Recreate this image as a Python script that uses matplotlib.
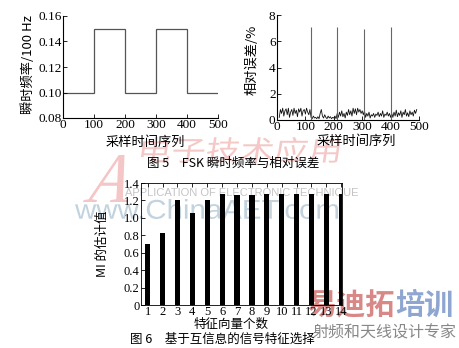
import matplotlib
matplotlib.use("Agg")
import matplotlib.pyplot as plt
from matplotlib.textpath import TextPath
from matplotlib.patches import PathPatch
from matplotlib.font_manager import FontProperties
from matplotlib.transforms import Affine2D

plt.rcParams['font.family'] = ['Liberation Serif', 'Noto Sans CJK SC']
plt.rcParams['axes.unicode_minus'] = False

# ---- data ----
seg_bounds = [0, 100, 200, 300, 400, 500]
seg_freq = [0.10, 0.15, 0.10, 0.15, 0.10]

err_x = list(range(8, 493, 4))
err_y = [0.2, 0.8, 0.5, 0.9, 0.3, 0.7, 0.85, 0.4, 0.9, 0.2, 0.6, 0.8, 0.35, 0.9, 0.5, 0.75, 0.25, 0.85, 0.6, 0.9, 0.3, 0.7, 0.8, 0.45, 0.9, 0.6,
         0.4, 0.8, 0.2, 0.1, 0.3, 0.15, 0.2, 0.1, 0.25, 0.1, 0.5, 0.8, 0.3, 0.15, 0.4, 0.2, 0.1, 0.3, 0.15, 0.25, 0.1, 0.2, 0.15,
         0.3, 0.1, 0.5, 0.2, 0.6, 0.3, 0.7, 0.25, 0.5, 0.15, 0.6, 0.35, 0.8, 0.4, 0.7, 0.3, 0.9, 0.5, 0.85, 0.4, 0.9, 0.6, 0.8, 0.5, 0.7,
         0.4, 0.7, 0.2, 0.5, 0.3, 0.6, 0.15, 0.4, 0.3, 0.5, 0.2, 0.45, 0.35, 0.6, 0.25, 0.5, 0.3, 0.7, 0.2, 0.45, 0.35, 0.6, 0.3, 0.5, 0.2,
         0.5, 0.2, 0.6, 0.3, 0.75, 0.25, 0.55, 0.35, 0.7, 0.2, 0.6, 0.4, 0.8, 0.3, 0.55, 0.25, 0.7, 0.4, 0.6, 0.3, 0.75, 0.5, 0.8]
spike_x = [121, 211, 306, 400]
spike_y = [7.1, 7.1, 6.9, 7.1]

n_features = list(range(1, 15))
mi_values = [0.70, 0.83, 1.20, 1.06, 1.21, 1.27, 1.26, 1.26, 1.27, 1.27, 1.27, 1.27, 1.27, 1.27]

W, H = 459, 348
fig = plt.figure(figsize=(W / 100, H / 100), dpi=100)

def px_axes(l, r, t, b):
    return fig.add_axes([l / W, (H - b) / H, (r - l) / W, (b - t) / H])

def stretched_text(s, x0, y_top, width, height, color, family, skew=0.0):
    """Draw text stretched into a pixel box (x0, y_top from top-left)."""
    tp = TextPath((0, 0), s, size=100, prop=FontProperties(family=family))
    bb = tp.get_extents()
    sx = width / bb.width
    sy = height / bb.height
    tr = (Affine2D().translate(-bb.x0, -bb.y0).scale(sx, sy).skew(skew, 0)
          .translate(x0, H - y_top - height))
    patch = PathPatch(tr.transform_path(tp), facecolor=color, edgecolor='none',
                      transform=None, zorder=-1)
    fig.patches.append(patch)
    patch.set_figure(fig)

tick_fs = 9.5
cjk = ['Noto Sans CJK SC', 'Liberation Serif']

# ---- background watermarks ----
stretched_text('www.ChinaAET.com', 75, 199, 263, 20, '#c3d3de', 'Liberation Sans')
stretched_text('A', 83, 155, 44, 47, '#f4c6c6', 'Liberation Serif', skew=0.35)
stretched_text('电子技术应用', 140, 137, 197, 26, '#f5c8c8', 'Noto Sans CJK SC', skew=0.15)

# ---- axes 1 ----
ax1 = px_axes(63, 218, 16, 118)
ax1.patch.set_alpha(0)
ax1.stairs(seg_freq, seg_bounds, color='#555555', linewidth=0.9, baseline=None)
ax1.set_xlim(0, 500)
ax1.set_ylim(0.08, 0.16)
ax1.set_xticks([0, 100, 200, 300, 400, 500])
ax1.set_yticks([0.08, 0.10, 0.12, 0.14, 0.16])
ax1.set_yticklabels(['0.08', '0.10', '0.12', '0.14', '0.16'])
ax1.spines['top'].set_visible(False)
ax1.spines['right'].set_visible(False)
ax1.tick_params(direction='in', length=3, labelsize=tick_fs, pad=1, width=0.6)
ax1.set_xlabel('采样时间序列', family=cjk, fontsize=9.5)
ax1.set_ylabel('瞬时频率/100 Hz', family=cjk, fontsize=9.5)
ax1.xaxis.set_label_coords(0.53, -0.176)
ax1.yaxis.set_label_coords(-0.18, 0.52)

# ---- axes 2 ----
ax2 = px_axes(277, 419, 15, 120)
ax2.patch.set_alpha(0)
ax2.plot(err_x, err_y, color='#111111', linewidth=0.6)
ax2.vlines(spike_x, 0, spike_y, color='#666666', linewidth=0.8)
ax2.set_xlim(0, 500)
ax2.set_ylim(0, 8)
ax2.set_xticks([0, 100, 200, 300, 400, 500])
ax2.set_yticks([0, 2, 4, 6, 8])
ax2.spines['top'].set_visible(False)
ax2.spines['right'].set_visible(False)
ax2.tick_params(direction='in', length=3, labelsize=tick_fs, pad=1, width=0.6)
ax2.set_xlabel('采样时间序列', family=cjk, fontsize=9.5)
ax2.set_ylabel('相对误差/%', family=cjk, fontsize=9.5)
ax2.xaxis.set_label_coords(0.56, -0.143)
ax2.yaxis.set_label_coords(-0.127, 0.57)

fig.text(233 / W, 1 - 163 / H, '图 5　FSK 瞬时频率与相对误差', family=cjk, fontsize=9,
         ha='center', va='center')

# ---- axes 3 ----
ax3 = px_axes(141, 342, 183, 305)
ax3.patch.set_alpha(0)
ax3.bar(n_features, mi_values, width=0.35, color='black')
ax3.set_xlim(0.55, 14.05)
ax3.set_ylim(0, 1.4)
ax3.set_xticks(n_features)
ax3.set_yticks([0, 0.2, 0.4, 0.6, 0.8, 1.0, 1.2, 1.4])
ax3.set_yticklabels(['0', '0.2', '0.4', '0.6', '0.8', '1.0', '1.2', '1.4'])
ax3.tick_params(direction='in', length=3, labelsize=9, pad=1, width=0.6, top=True)
for s in ax3.spines.values():
    s.set_linewidth(0.6)
ax3.set_xlabel('特征向量个数', family=cjk, fontsize=9)
ax3.set_ylabel('MI 的估计值', family=cjk, fontsize=9)
ax3.xaxis.set_label_coords(0.45, -0.107)
ax3.yaxis.set_label_coords(-0.159, 0.5)
ax3.text(0.5, 0.92, 'APPLICATION OF ELECTRONIC TECHNIQUE', transform=ax3.transAxes,
         fontsize=8, color='#c4c4c4', family=['Liberation Sans'], ha='center', va='center',
         zorder=0)

fig.text(222 / W, 1 - 339 / H, '图 6　基于互信息的信号特征选择', family=cjk, fontsize=9,
         ha='center', va='center')

# ---- corner logo watermark ----
fig.text(307 / W, 1 - 305 / H, '易迪拓', family=cjk, fontsize=21, fontweight='bold',
         color='#d98888', ha='left', va='center', zorder=-1)
fig.text(395 / W, 1 - 305 / H, '培训', family=cjk, fontsize=21, fontweight='bold',
         color='#8ea6d0', ha='left', va='center', zorder=-1)
fig.text(456 / W, 1 - 333 / H, '射频和天线设计专家', family=cjk, fontsize=11.5,
         color='#888888', ha='right', va='center', zorder=-1)

fig.savefig('out.png', dpi=100)
